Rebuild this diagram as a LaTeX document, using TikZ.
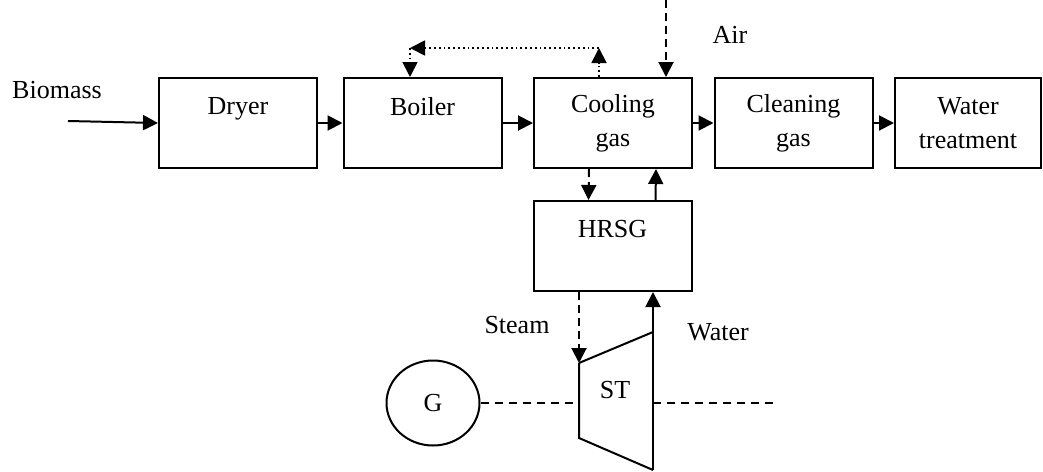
\documentclass[tikz,border=0pt]{standalone}
\usepackage{fontspec}
\setmainfont{Liberation Serif}
\usetikzlibrary{arrows.meta,shapes.geometric}
\tikzset{
  unitbox/.style={draw,line width=1pt,minimum width=79pt,minimum height=45pt,
                  inner sep=2pt,align=center,font=\fontsize{13}{17}\selectfont},
  lbl/.style={font=\fontsize{13}{16}\selectfont,inner sep=0pt},
  flow/.style={line width=1pt,-{Triangle[length=7.5pt,width=7.5pt]}},
  dashflow/.style={flow,dash pattern=on 4pt off 2.5pt},
  dotflow/.style={flow,line width=0.9pt,dash pattern=on 0.9pt off 1.5pt},
  shaft/.style={line width=0.6pt,dash pattern=on 4pt off 3pt}
}

\begin{document}
\begin{tikzpicture}[x=0.5pt,y=-0.5pt]
  \useasboundingbox (0,0) rectangle (1043,471);

  \node[unitbox] (dryer)  at (238,123)   {Dryer\\\mbox{}};
  \node[unitbox] (boiler) at (422.5,123) {Boiler\\\mbox{}};
  \node[unitbox] (cool)   at (613,123)   {Cooling\\gas};
  \node[unitbox] (clean)  at (793.5,123) {Cleaning\\gas};
  \node[unitbox,minimum width=73pt] (water) at (968,123) {Water\\treatment};
  \node[unitbox] (hrsg)   at (612.5,246) {HRSG\\\mbox{}};
  \node[draw,ellipse,line width=1pt,minimum width=46.5pt,minimum height=42.5pt,
        font=\fontsize{13}{16}\selectfont] (gen) at (433,403) {G};

  \node[lbl] (biomasslbl) at (57,90)  {Biomass};
  \node[lbl] (airlbl)     at (730,35) {Air};
  \node[lbl] (steamlbl)   at (517,325) {Steam};
  \node[lbl] (waterlbl)   at (718,332) {Water};
  \node[lbl] (stlbl)      at (615,390) {ST};

  \coordinate (biomassin) at (68,121);
  \coordinate (airin)     at (666,0);
  \coordinate (dtop)      at (599,48);
  \coordinate (dleft)     at (410,48);
  \coordinate (sttl)      at (579,363);
  \coordinate (sttr)      at (653,332);
  \coordinate (stbr)      at (653,470);
  \coordinate (stbl)      at (579,438);
  \coordinate (stw)       at (579,403);
  \coordinate (ste)       at (653,403);
  \coordinate (shaftend)  at (777,403);

  \draw[line width=1pt] (sttl) -- (sttr) (stbr) -- (stbl) -- (sttl);

  \draw[flow] (biomassin) -- (dryer.west);
  \draw[flow] (dryer) -- (boiler);
  \draw[flow] (boiler) -- (cool);
  \draw[flow] (cool) -- (clean);
  \draw[flow] (clean) -- (water);

  \draw[dotflow] (dtop |- cool.north) -- (dtop);
  \draw[dotflow] (dtop) -- (dleft);
  \draw[dotflow] (dleft) -- (dleft |- boiler.north);

  \draw[dashflow] (airin) -- (airin |- cool.north);
  \draw[dashflow] ([xshift=-12pt]cool.south) -- ([xshift=-12pt]hrsg.north);
  \draw[flow] ([xshift=21.5pt]hrsg.north) -- ([xshift=21.5pt]cool.south);

  \draw[dashflow] (hrsg.south -| sttl) -- (sttl);
  \draw[flow] (stbr) -- (hrsg.south -| stbr);

  \draw[shaft] (gen.east) -- (stw);
  \draw[shaft] (ste) -- (shaftend);
\end{tikzpicture}
\end{document}
